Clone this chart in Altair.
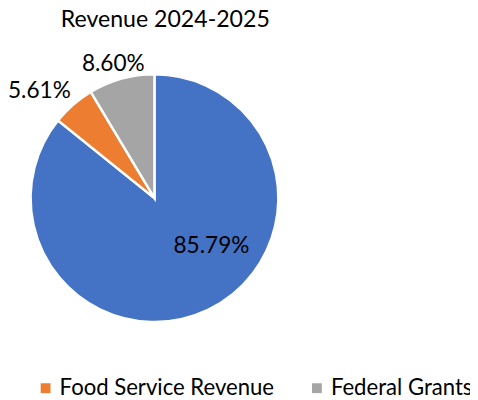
import altair as alt
import pandas as pd

categories = ["Local Revenue", "Food Service Revenue", "Federal Grants"]
values = [85.79, 5.61, 8.60]
labels = ["85.79%", "5.61%", "8.60%"]
colors = ["#4472C4", "#ED7D31", "#A5A5A5"]

df = pd.DataFrame({
    "category": categories,
    "value": values,
    "label": labels,
    "idx": list(range(len(categories))),
})

FONT = "Lato"

base = alt.Chart(df).encode(
    theta=alt.Theta("value:Q", stack=True),
    order=alt.Order("idx:Q"),
)

arc = base.mark_arc(outerRadius=126, stroke="white", strokeWidth=2.5).encode(
    color=alt.Color(
        "category:N",
        scale=alt.Scale(domain=categories, range=colors),
        sort=categories,
        legend=alt.Legend(
            title=None,
            orient="none",
            direction="horizontal",
            legendX=27,
            legendY=372,
            values=categories[1:],
            symbolType="square",
            symbolSize=100,
            symbolStrokeWidth=0,
            labelFont=FONT,
            labelFontSize=22.5,
            labelColor="#000000",
            labelOffset=3,
            columnPadding=32,
            padding=0,
            labelLimit=400,
        ),
    )
)


def label_layer(cat, radius, dx, dy):
    return base.mark_text(
        radius=radius, dx=dx, dy=dy, font=FONT, fontSize=23, color="#000000"
    ).encode(
        text=alt.condition(alt.datum.category == cat, "label:N", alt.value(""))
    )


chart = alt.layer(
    arc,
    label_layer(categories[0], 74, 26, -18),
    label_layer(categories[1], 160, -12, 12),
    label_layer(categories[2], 142, -4, 1),
).properties(
    width=298,
    height=380,
    padding={"left": 0, "top": 0, "right": 172, "bottom": 12},
    autosize=alt.AutoSizeParams(type="none"),
    title=alt.TitleParams(
        "Revenue 2024-2025",
        font=FONT,
        fontSize=23.5,
        fontWeight="normal",
        color="#000000",
        anchor="middle",
        dx=11,
        dy=44,
        offset=0,
        baseline="bottom",
    ),
).configure_view(stroke=None)

chart.save("out.html", embed_options={"renderer": "svg", "actions": False})
